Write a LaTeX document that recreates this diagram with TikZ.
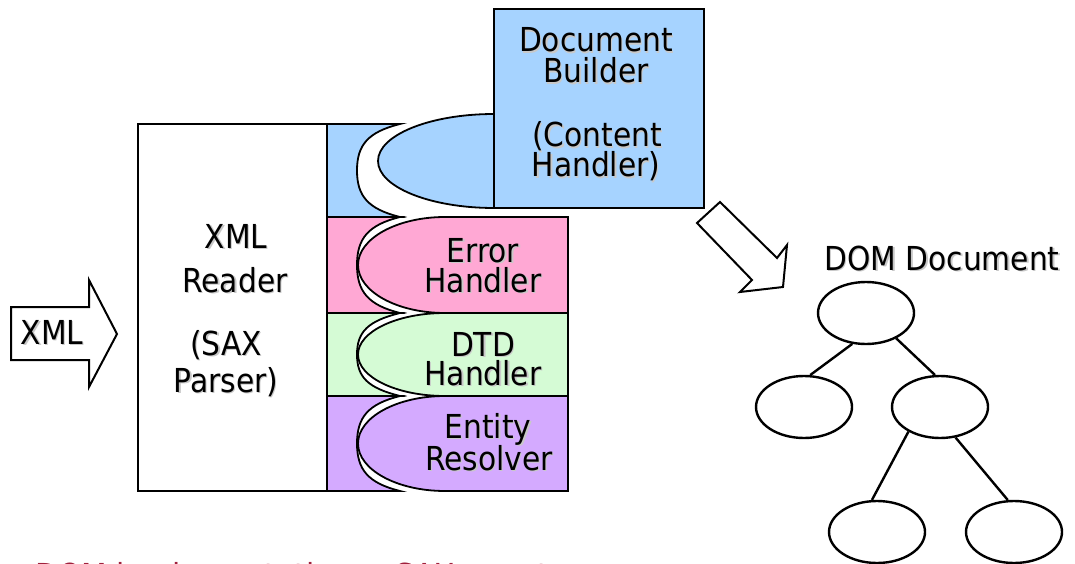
\documentclass[tikz,border=0pt]{standalone}
\usepackage{fontspec}
\setmainfont{DejaVu Sans Condensed}
\usetikzlibrary{shapes.geometric}

\definecolor{cblue}{RGB}{166,211,255}
\definecolor{cpink}{RGB}{255,168,212}
\definecolor{cgreen}{RGB}{213,251,213}
\definecolor{cpurple}{RGB}{212,170,255}
\definecolor{shadowgray}{RGB}{200,200,200}
\definecolor{capred}{RGB}{160,32,60}

% text with a soft grey drop shadow
\newcommand\shtxt[1]{\leavevmode\rlap{\hspace{1.3pt}\raisebox{-1.3pt}{\color{shadowgray}#1}}#1}

\begin{document}
\begin{tikzpicture}[x=1pt,y=-1pt,
  box/.style={draw=black, line width=1.8pt},
  lbl/.style={anchor=base, inner sep=0pt, font=\fontsize{33}{36}\selectfont},
  treenode/.style={draw=black, line width=2.4pt, ellipse, inner sep=0pt,
                   minimum width=96pt, minimum height=62pt},
  edge/.style={draw=black, line width=2.4pt},
  blockarrow/.style={draw=black, line width=2pt, fill=white, line join=miter}]
\useasboundingbox (0,0) rectangle (1075,564);

% XML reader body
\node[box, fill=white, minimum width=189pt, minimum height=367pt, inner sep=0pt] (reader) at (232.5,307.5) {};

% left parts of the handler bands, each with a curved socket edge
\draw[box, fill=cblue] (327,124) -- (400,124)
  .. controls (368,132) and (357,144.9) .. (357,170.5)
  .. controls (357,196.1) and (368,209) .. (400,217) -- (327,217) -- cycle;
\draw[box, fill=cpink] (327,217) -- (400,217)
  .. controls (368,225) and (357,238.6) .. (357,265)
  .. controls (357,291.4) and (368,305) .. (400,313) -- (327,313) -- cycle;
\draw[box, fill=cgreen] (327,313) -- (400,313)
  .. controls (368,321) and (357,331.7) .. (357,354.5)
  .. controls (357,377.3) and (368,388) .. (400,396) -- (327,396) -- cycle;
\draw[box, fill=cpurple] (327,396) -- (400,396)
  .. controls (368,404) and (357,417.4) .. (357,443.5)
  .. controls (357,469.6) and (368,483) .. (400,491) -- (327,491) -- cycle;

% plugs of the handlers
\draw[box, fill=cblue] (494,161) ellipse [x radius=116, y radius=47];
\draw[box, fill=cpink] (568,217) -- (445,217)
  arc[start angle=-90, end angle=-270, x radius=87, y radius=48] -- (568,313) -- cycle;
\draw[box, fill=cgreen] (568,313) -- (445,313)
  arc[start angle=-90, end angle=-270, x radius=87, y radius=41.5] -- (568,396) -- cycle;
\draw[box, fill=cpurple] (568,396) -- (445,396)
  arc[start angle=-90, end angle=-270, x radius=87, y radius=47.5] -- (568,491) -- cycle;

% document builder
\node[box, fill=cblue, minimum width=210pt, minimum height=199pt, inner sep=0pt] (builder) at (599,108.5) {};

% labels
\node[lbl] (tDoc) at (596,52) {\shtxt{Document}};
\node[lbl] (tBuild) at (596,83) {\shtxt{Builder}};
\node[lbl] (tCont) at (597,147) {\shtxt{(Content}};
\node[lbl] (tCH) at (596,177) {\shtxt{Handler)}};

\node[lbl] (tXML) at (236,248) {\shtxt{XML}};
\node[lbl] (tReader) at (235,292) {\shtxt{Reader}};
\node[lbl] (tSAX) at (226,355) {\shtxt{(SAX}};
\node[lbl] (tParser) at (226,392) {\shtxt{Parser)}};

\node[lbl] (tErr) at (483,262) {\shtxt{Error}};
\node[lbl] (tEH) at (483,292) {\shtxt{Handler}};
\node[lbl] (tDTD) at (483,356) {\shtxt{DTD}};
\node[lbl] (tDH) at (483,385) {\shtxt{Handler}};
\node[lbl] (tEnt) at (488,438) {\shtxt{Entity}};
\node[lbl] (tRes) at (489,470) {\shtxt{Resolver}};

% input arrow
\draw[blockarrow] (11,307) -- (89,307) -- (89,280) -- (117,334) -- (89,387) -- (89,360) -- (11,360) -- cycle;
\node[lbl] (tIn) at (52,344) {\shtxt{XML}};

% output arrow
\draw[blockarrow] (720,202) -- (777,258) -- (787,245) -- (783,287) -- (740,292) -- (752,280) -- (697,223) -- cycle;

% DOM tree
\node[lbl] (tDOM) at (942,270) {\shtxt{DOM Document}};
\node[treenode] (root) at (866,313) {};
\node[treenode] (lc) at (804,407) {};
\node[treenode] (rc) at (940,407) {};
\node[treenode] (rl) at (877,532) {};
\node[treenode] (rr) at (1014,532) {};
\draw[edge] (root.246) -- (lc.79);
\draw[edge] (root.320) -- (rc.99);
\draw[edge] (rc.218) -- (rl.99);
\draw[edge] (rc.297) -- (rr.101);

% caption line, cut by the lower edge
\node[lbl, anchor=base west, text=capred] (cap1) at (35,587) {DOM implementation};
\node[lbl, anchor=base west, text=capred] (cap2) at (395,587) {SAX events};
\end{tikzpicture}
\end{document}
